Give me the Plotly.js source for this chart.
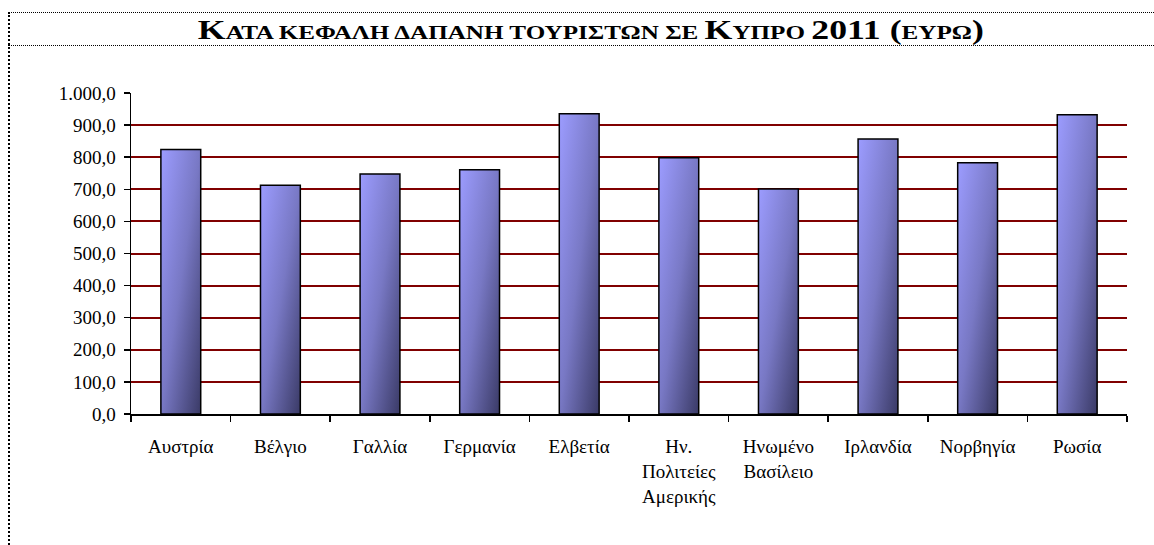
<!DOCTYPE html>
<html>
<head>
<meta charset="utf-8">
<script src="https://cdn.plot.ly/plotly-3.0.1.min.js"></script>
<style>
  html, body { margin:0; padding:0; background:#fff; }
  #wrap { position:relative; width:1154px; height:545px; overflow:hidden; }
  #chart { position:absolute; left:0; top:0; width:1154px; height:545px; }
  .frameTop { position:absolute; left:8px; top:12px; width:1146px; height:0; border-top:1px dotted #000; }
  .frameMid { position:absolute; left:8px; top:45px; width:1146px; height:0; border-top:1px dotted #000; }
  .frameLeft { position:absolute; left:8px; top:12px; width:0; height:533px; border-left:2px dotted #000; }
</style>
</head>
<body>
<div id="wrap">
  <div id="chart"></div>
  <div class="frameTop"></div>
  <div class="frameMid"></div>
  <div class="frameLeft"></div>
</div>
<script>
const countries = ["Αυστρία","Βέλγιο","Γαλλία","Γερμανία","Ελβετία","Ην.<br>Πολιτείες<br>Αμερικής","Ηνωμένο<br>Βασίλειο","Ιρλανδία","Νορβηγία","Ρωσία"];
const spending = [824, 713, 748, 761, 935, 798, 701, 857, 783, 932];
const yTicks = [0,100,200,300,400,500,600,700,800,900,1000];

const big = '<span style="font-size:27px">';
const sm = '<span style="font-size:19px">';
const titleText = big + 'Κ</span>' + sm + 'ΑΤΑ ΚΕΦΑΛΗ ΔΑΠΑΝΗ ΤΟΥΡΙΣΤΩΝ ΣΕ </span>' +
  big + 'Κ</span>' + sm + 'ΥΠΡΟ </span>' + big + '2011 (</span>' + sm + 'ΕΥΡΩ</span>' + big + ')</span>';

const fam = 'Liberation Serif, Times New Roman, serif';

const data = [{
  type: 'bar',
  x: countries,
  y: spending,
  marker: {color: '#8080d8', line: {color: '#000', width: 1.5}},
  hoverinfo: 'x+y'
}];

const layout = {
  width: 1154, height: 545,
  margin: {l: 131, r: 27, t: 93, b: 131},
  paper_bgcolor: '#fff', plot_bgcolor: '#fff',
  font: {family: fam, size: 19, color: '#000'},
  separators: ',.',
  bargap: 0.6,
  showlegend: false,
  title: {text: titleText, x: 0.512, xanchor: 'center', y: 0.945, yanchor: 'middle',
          font: {family: fam, size: 27, color: '#000', weight: 'bold'}},
  xaxis: {
    type: 'category',
    showline: true, linecolor: '#000', linewidth: 1.5,
    ticks: 'outside', tickson: 'boundaries', ticklen: 6, tickcolor: '#000', tickwidth: 1.5,
    showgrid: false, tickfont: {family: fam, size: 19, color: '#000'}, automargin: false, ticklabelstandoff: 15
  },
  yaxis: {
    range: [0, 1000], tickvals: yTicks, tickformat: ',.1f',
    showline: true, linecolor: '#000', linewidth: 1.5,
    ticks: 'outside', ticklen: 6, tickcolor: '#000', tickwidth: 1.5,
    showgrid: true, gridcolor: '#800000', gridwidth: 2,
    zeroline: false, tickfont: {family: fam, size: 19, color: '#000'}, automargin: false, ticklabelstandoff: 4
  }
};

Plotly.newPlot('chart', data, layout, {displayModeBar: false, staticPlot: true}).then(function(gd){
  const svg = gd.querySelector('svg.main-svg');
  const ns = 'http://www.w3.org/2000/svg';
  let defs = svg.querySelector('defs');
  if (!defs) { defs = document.createElementNS(ns, 'defs'); svg.insertBefore(defs, svg.firstChild); }
  const g = document.createElementNS(ns, 'linearGradient');
  g.setAttribute('id', 'barGrad');
  g.setAttribute('x1', '0'); g.setAttribute('y1', '0');
  g.setAttribute('x2', '1'); g.setAttribute('y2', '1');
  [['0', '#9c9cff'], ['0.5', '#7878c4'], ['1', '#3a3a66']].forEach(function(s){
    const st = document.createElementNS(ns, 'stop');
    st.setAttribute('offset', s[0]); st.setAttribute('stop-color', s[1]);
    g.appendChild(st);
  });
  defs.appendChild(g);
  gd.querySelectorAll('.trace.bars .point path').forEach(function(p){
    p.style.fill = 'url(#barGrad)';
  });
  const t = gd.querySelector('.g-gtitle text');
  if (t) {
    t.setAttribute('textLength', '786');
    t.setAttribute('lengthAdjust', 'spacingAndGlyphs');
  }
});
</script>
</body>
</html>
